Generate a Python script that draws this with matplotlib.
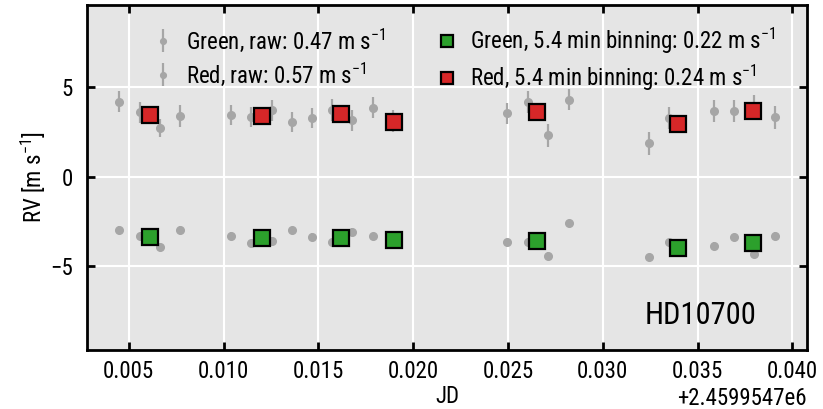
import matplotlib
matplotlib.use("Agg")
import matplotlib.pyplot as plt
from matplotlib.ticker import MultipleLocator

FONT = 'Roboto Condensed'
plt.rcParams['font.family'] = [FONT, 'DejaVu Sans']
plt.rcParams['mathtext.fontset'] = 'custom'
plt.rcParams['mathtext.rm'] = FONT
plt.rcParams['mathtext.it'] = FONT + ':italic'
plt.rcParams['mathtext.bf'] = FONT + ':bold'

JD0 = 2459954.7

# raw exposures (days after JD0)
t_raw = [0.00450, 0.00557, 0.00665, 0.00772, 0.01038, 0.01145, 0.01256, 0.01360,
         0.01466, 0.01572, 0.01679, 0.01787, 0.01893, 0.02497, 0.02603, 0.02712,
         0.02820, 0.03245, 0.03351, 0.03584, 0.03691, 0.03799, 0.03907]
rv_red_raw = [4.20, 3.60, 2.73, 3.38, 3.44, 3.34, 3.70, 3.03, 3.27, 3.72, 3.14, 3.85,
              3.10, 3.54, 4.17, 2.30, 4.31, 1.87, 3.29, 3.67, 3.67, 3.95, 3.31]
err_red_raw = [0.61, 0.60, 0.50, 0.62, 0.54, 0.58, 0.60, 0.56, 0.56, 0.60, 0.58, 0.59,
               0.60, 0.58, 0.60, 0.63, 0.61, 0.64, 0.60, 0.62, 0.62, 0.60, 0.65]
rv_green_raw = [-2.97, -3.34, -3.96, -2.99, -3.31, -3.72, -3.60, -2.99, -3.38, -3.68,
                -3.08, -3.34, -3.50, -3.67, -3.65, -4.44, -2.60, -4.51, -3.67, -3.86,
                -3.39, -4.34, -3.31]
err_green_raw = [0.20, 0.20, 0.19, 0.20, 0.19, 0.20, 0.20, 0.19, 0.20, 0.20, 0.19, 0.20,
                 0.20, 0.19, 0.20, 0.20, 0.19, 0.20, 0.20, 0.19, 0.20, 0.20, 0.19]

# 5.4 min bins
t_bin = [0.00613, 0.01201, 0.01622, 0.01897, 0.02651, 0.03399, 0.03794]
rv_red_bin = [3.47, 3.37, 3.51, 3.07, 3.61, 2.96, 3.65]
rv_green_bin = [-3.38, -3.42, -3.43, -3.53, -3.61, -4.00, -3.70]

labels = ["Green, raw: 0.47 m s$^{-1}$", "Red, raw: 0.57 m s$^{-1}$",
          "Green, 5.4 min binning: 0.22 m s$^{-1}$", "Red, 5.4 min binning: 0.24 m s$^{-1}$"]

FS = 16.5

fig = plt.figure(figsize=(8.23, 4.09), dpi=100)
ax = fig.add_axes([0.1057, 0.1443, 0.8749, 0.8435])
ax.set_facecolor('#e5e5e5')

raw_col = '#a6a6a6'
tr = [JD0 + t for t in t_raw]
tb = [JD0 + t for t in t_bin]

h1 = ax.errorbar(tr, rv_green_raw, yerr=err_green_raw, fmt='o', color=raw_col,
                 ms=5.5, elinewidth=1.6, capsize=0, zorder=2, label=labels[0])
h2 = ax.errorbar(tr, rv_red_raw, yerr=err_red_raw, fmt='o', color=raw_col,
                 ms=5.5, elinewidth=1.6, capsize=0, zorder=2, label=labels[1])
h3, = ax.plot(tb, rv_green_bin, 's', color='#2ca02c', mec='black', mew=1.6,
              ms=12, zorder=3, label=labels[2])
h4, = ax.plot(tb, rv_red_bin, 's', color='#d62728', mec='black', mew=1.6,
              ms=12, zorder=3, label=labels[3])

ax.set_xlim(JD0 + 0.0028, JD0 + 0.04077)
ax.set_ylim(-9.7, 9.6)
ax.xaxis.set_major_locator(MultipleLocator(0.005))
ax.yaxis.set_major_locator(MultipleLocator(5))
ax.xaxis.get_major_formatter().set_useOffset(JD0)

ax.grid(True, color='white', lw=1.5, zorder=0)
ax.set_axisbelow(True)
for s in ax.spines.values():
    s.set_linewidth(2)
ax.tick_params(direction='in', length=6, width=2, top=True, right=True,
               labelsize=FS)
ax.tick_params(axis='x', pad=7)
ax.tick_params(axis='y', pad=10)
ax.xaxis.get_offset_text().set_fontsize(FS)

ax.set_xlabel("JD", fontsize=FS, labelpad=2)
ax.set_ylabel("RV [m s$^{-1}$]", fontsize=FS, labelpad=2)

ax.legend(handles=[h1, h2, h3, h4], loc='upper center', ncol=2, frameon=False,
          fontsize=FS, handletextpad=0.4, handlelength=1.2, columnspacing=2.1,
          labelspacing=0.3, markerscale=0.75, bbox_to_anchor=(0.521, 1.0))

ax.text(0.93, 0.1, "HD10700", transform=ax.transAxes, ha='right', va='center',
        fontsize=22)

fig.savefig("out.png", dpi=100)
